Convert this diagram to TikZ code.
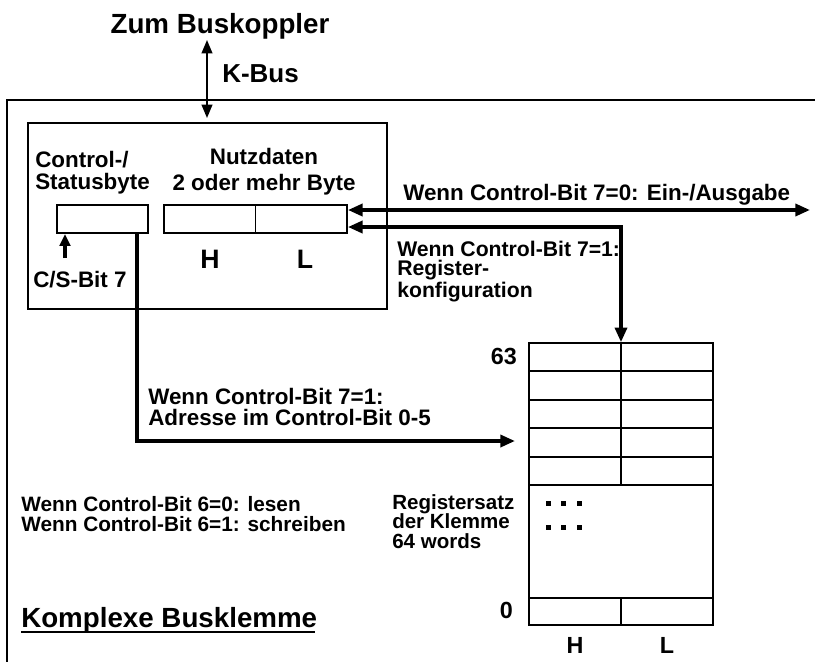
\documentclass[tikz,border=0pt]{standalone}
\usepackage{fontspec}
\setmainfont{Liberation Sans}
\usetikzlibrary{arrows.meta}
\begin{document}
\begin{tikzpicture}[x=0.75pt,y=-0.75pt,
  lbl/.style={font=\bfseries\fontsize{16.8}{15.75}\selectfont, inner sep=0pt, anchor=base west, align=left},
  sml/.style={font=\bfseries\fontsize{15.4}{14.6}\selectfont, inner sep=0pt, anchor=base west, align=left},
  big/.style={font=\bfseries\fontsize{20.8}{24}\selectfont, inner sep=0pt, anchor=base west},
  hl/.style={font=\bfseries\fontsize{20}{24}\selectfont, inner sep=0pt, anchor=base},
  num/.style={font=\bfseries\fontsize{17.5}{20}\selectfont, inner sep=0pt, anchor=base east},
  box/.style={draw, line width=1.2pt, inner sep=0pt},
  thinln/.style={line width=1.2pt},
  thickln/.style={line width=2.6pt},
  tipa/.style={-{Triangle[length=11pt,width=9pt]}},
  tipb/.style={{Triangle[length=11pt,width=9pt]}-{Triangle[length=11pt,width=9pt]}},
  tipc/.style={-{Triangle[length=9pt,width=8pt]}}
]
\useasboundingbox (0,0) rectangle (815,662);
% outer open frame
\coordinate (frTR) at (815,100);
\coordinate (frTL) at (7,100);
\coordinate (frBL) at (7,662);
\draw[thinln] (frTR) -- (frTL) -- (frBL);
% texts
\node[big, anchor=base] (zb) at (220,33) {Zum Buskoppler};
\node[big, anchor=base west, font=\bfseries\fontsize{19.5}{24}\selectfont] (kbus) at (222,82) {K-Bus};
% K-Bus arrow
\coordinate (kbT) at (207,40);
\coordinate (kbB) at (207,118);
\draw[line width=1.5pt, {Triangle[length=10pt,width=8pt]}-{Triangle[length=10pt,width=8pt]}] (kbT) -- (kbB);
% inner module box
\node[box, minimum width=269.25pt, minimum height=139.5pt] (mod) at (207.5,216) {};
\node[lbl, font=\bfseries\fontsize{16.8}{16.2}\selectfont] (ctl) at (35,189) {Control-/\\Statusbyte};
\node[lbl, anchor=base, align=center, font=\bfseries\fontsize{16.8}{19.5}\selectfont] (ndt) at (264,190) {Nutzdaten\\2 oder mehr Byte};
% byte boxes
\node[box, line width=1.4pt, minimum width=68.25pt, minimum height=21pt] (sb) at (102.5,219) {};
\node[box, line width=1.4pt, minimum width=137.25pt, minimum height=21pt] (nd) at (255.5,219) {};
\draw[line width=1.4pt] (nd.north) -- (nd.south);
\node[hl] (hH) at (210,268) {H};
\node[hl] (hL) at (305,268) {L};
\node[lbl] (csb) at (33,287) {C/S-Bit 7};
\coordinate (csA) at (65,258);
\draw[line width=2.6pt, tipc] (csA) -- (csA |- sb.south);
% right arrows
\coordinate (io) at (810,210);
\draw[thickln, tipb] (io -| nd.east) -- (io);
\node[lbl] (iot) at (403,200) {Wenn Control-Bit 7=0: Ein-/Ausgabe};
\coordinate (rc) at (623,227);
% register block
\node[box, minimum width=138pt, minimum height=211.5pt] (reg) at (621,484) {};
\draw[thickln, tipb] (rc -| nd.east) -| (reg.north);
\node[lbl, font=\bfseries\fontsize{15.9}{14.6}\selectfont] (rct) at (397,297) {Wenn Control-Bit 7=1:\\Register-\\konfiguration};
\foreach \yy in {371,400,428,457,485,598} \draw[thinln] (reg.west |- 0,\yy) -- (reg.east |- 0,\yy);
\draw[thinln] (reg.north) -- (reg.north |- 0,485);
\draw[thinln] (reg.south |- 0,598) -- (reg.south);
\node[num] (n63) at (517,364) {63};
\node[num] (n0) at (513,618) {0};
\node[hl, font=\bfseries\fontsize{17.5}{20}\selectfont] (rH) at (575,653) {H};
\node[hl, font=\bfseries\fontsize{17.5}{20}\selectfont] (rL) at (667,653) {L};
\foreach \xx in {548,563,579} \foreach \yy in {503,527} \fill (\xx-2.5,\yy-2.5) rectangle (\xx+2.5,\yy+2.5);
\node[sml] (rs) at (392,548) {Registersatz\\der Klemme\\64 words};
% address line
\coordinate (sbout) at (137,233);
\coordinate (addr) at (515,441);
\draw[thickln, tipa] (sbout) |- (addr);
\node[lbl] (ad) at (148,425) {Wenn Control-Bit 7=1:\\Adresse im Control-Bit 0-5};
\node[sml, font=\bfseries\fontsize{15.6}{14.6}\selectfont] (rw) at (21,531) {Wenn Control-Bit 6=0: lesen\\Wenn Control-Bit 6=1: schreiben};
\node[big] (kbt) at (21,627) {Komplexe Busklemme};
\coordinate (ulA) at (21,632);
\coordinate (ulB) at (315,632);
\draw[line width=1.4pt] (ulA) -- (ulB);
\end{tikzpicture}
\end{document}
